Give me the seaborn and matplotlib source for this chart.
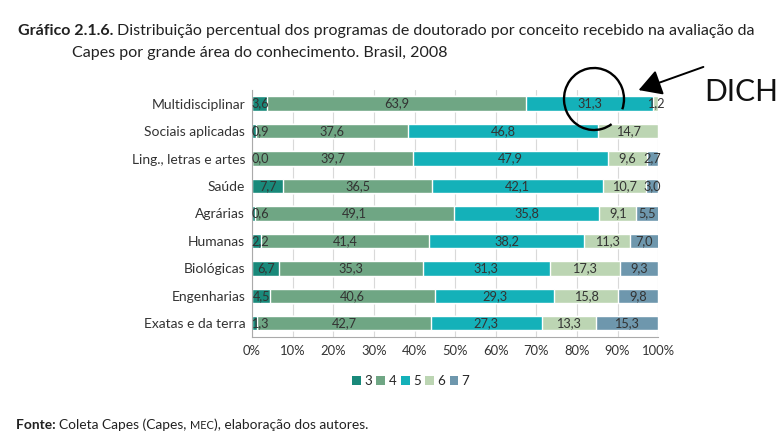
import matplotlib
matplotlib.use("Agg")
import matplotlib.pyplot as plt
import seaborn as sns
import pandas as pd
import numpy as np
from matplotlib.patches import Arc, Patch, FancyArrowPatch

areas = ["Multidisciplinar", "Sociais aplicadas", "Ling., letras e artes", "Saúde",
         "Agrárias", "Humanas", "Biológicas", "Engenharias", "Exatas e da terra"]
conceito_3 = [3.6, 0.9, 0.0, 7.7, 0.6, 2.2, 6.7, 4.5, 1.3]
conceito_4 = [63.9, 37.6, 39.7, 36.5, 49.1, 41.4, 35.3, 40.6, 42.7]
conceito_5 = [31.3, 46.8, 47.9, 42.1, 35.8, 38.2, 31.3, 29.3, 27.3]
conceito_6 = [1.2, 14.7, 9.6, 10.7, 9.1, 11.3, 17.3, 15.8, 13.3]
conceito_7 = [0.0, 0.0, 2.7, 3.0, 5.5, 7.0, 9.3, 9.8, 15.3]
series_names = ["3", "4", "5", "6", "7"]
colors = ["#19897a", "#6fa684", "#14b1b9", "#bcd5b3", "#6e97ad"]

df = pd.DataFrame({"area": areas, "3": conceito_3, "4": conceito_4, "5": conceito_5,
                   "6": conceito_6, "7": conceito_7})
cum = df[series_names].cumsum(axis=1)

sns.set_style("white")
plt.rcParams["font.family"] = ["Lato", "DejaVu Sans"]

fig = plt.figure(figsize=(7.78, 4.47), dpi=100)
ax = fig.add_axes([0.324, 0.246, 0.522, 0.553])

# stacked bars: draw cumulative totals from the last series backwards
for name, col in reversed(list(zip(series_names, colors))):
    sns.barplot(x=cum[name], y=df["area"], orient="h", color=col, width=0.52,
                saturation=1, ax=ax, zorder=2)

# value labels
for i in range(len(areas)):
    start = 0.0
    for name in series_names:
        v = df.loc[i, name]
        if name in ("6", "7") and v == 0:
            continue
        xc = max(start + v / 2, 2.0)
        ax.text(xc, i, f"{v:.1f}".replace(".", ","), ha="center", va="center",
                fontsize=9.2, color="#333333", zorder=3)
        start += v

ax.set_xlim(0, 100)
ax.set_ylim(len(areas) - 0.5, -0.5)
ax.set_xticks(np.arange(0, 101, 10))
ax.set_xticklabels([f"{t}%" for t in range(0, 101, 10)], fontsize=9.4, color="#333333")
ax.set_yticks(range(len(areas)))
ax.set_yticklabels(areas, fontsize=10, color="#333333")
ax.set_yticks(np.arange(-0.5, len(areas), 1), minor=True)
ax.tick_params(axis="y", which="major", length=0, pad=5)
ax.tick_params(axis="y", which="minor", length=4, color="#aaaaaa", direction="out")
ax.tick_params(axis="x", length=3, color="#aaaaaa", pad=3)
ax.set_xlabel("")
ax.set_ylabel("")
ax.grid(axis="x", color="#d9d9d9", linewidth=0.8, zorder=0)
ax.set_axisbelow(True)
for s in ["top", "right"]:
    ax.spines[s].set_visible(False)
for s in ["left", "bottom"]:
    ax.spines[s].set_color("#aaaaaa")
    ax.spines[s].set_linewidth(0.8)

handles = [Patch(facecolor=c, edgecolor="none", label=n) for n, c in zip(series_names, colors)]
fig.legend(handles=handles, loc="center", bbox_to_anchor=(0.528, 0.147), ncol=5,
           frameon=False, handlelength=0.65, handleheight=0.65, handletextpad=0.25,
           columnspacing=0.35, fontsize=9.6)

# title and source, with bold lead-in
renderer = fig.canvas.get_renderer()


def chain(x, y, parts):
    for txt, kw in parts:
        t = fig.text(x, y, txt, color="#222222", va="baseline", **kw)
        bb = t.get_window_extent(renderer=renderer)
        x = bb.x1 / fig.bbox.width


chain(18 / 778, 1 - 35 / 447, [("Gráfico 2.1.6. ", dict(fontsize=11.5, fontweight="bold")),
                             ("Distribuição percentual dos programas de doutorado por conceito recebido na avaliação da",
                              dict(fontsize=11.5))])
fig.text(72 / 778, 1 - 57 / 447, "Capes por grande área do conhecimento. Brasil, 2008",
         fontsize=11.5, color="#222222", va="baseline")
chain(16 / 778, 1 - 429 / 447, [("Fonte: ", dict(fontsize=9.9, fontweight="bold")),
                              ("Coleta Capes (Capes, ", dict(fontsize=9.9)),
                              ("MEC", dict(fontsize=7.9)),
                              ("), elaboração dos autores.", dict(fontsize=9.9))])

# hand-drawn annotation (pixel -> inches)
px = lambda x, y: (x / 100, (447 - y) / 100)
fig.add_artist(Arc(px(594, 99), 0.60, 0.62, angle=0, theta1=-20, theta2=305,
                   transform=fig.dpi_scale_trans, color="black", linewidth=1.7))
fig.add_artist(FancyArrowPatch(px(706, 66), px(636, 91), transform=fig.dpi_scale_trans,
                               arrowstyle="-|>,head_length=7,head_width=4",
                               color="black", linewidth=1.4, mutation_scale=2))
fig.text(*px(704, 101), "DICH", transform=fig.dpi_scale_trans, fontsize=21.5,
         color="#111111", fontweight="normal", va="baseline")

fig.savefig("out.png", dpi=100)
